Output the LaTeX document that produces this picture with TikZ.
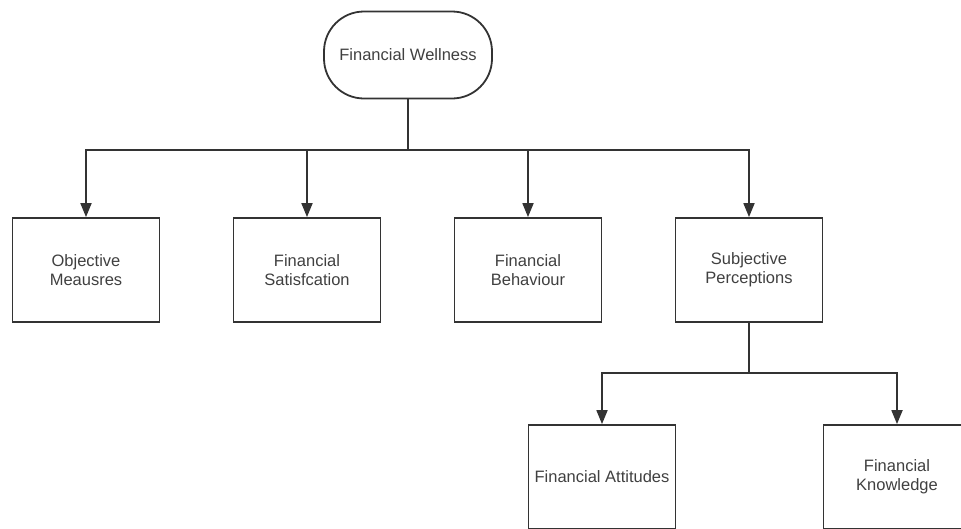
\documentclass[tikz,border=0pt]{standalone}
\usepackage{fontspec}
\setmainfont{Liberation Sans}
\usetikzlibrary{arrows.meta}

\begin{document}
\begin{tikzpicture}[x=1pt,y=-1pt,
  box/.style={draw=black!80,line width=1.8pt,minimum width=147pt,minimum height=104pt,
    align=center,text=black!75,font=\fontsize{16.5}{19}\selectfont},
  link/.style={draw=black!80,line width=1.8pt,-{Triangle[width=11pt,length=14pt]}}]

 \useasboundingbox (0,0) rectangle (961,528);
 \clip (0,0) rectangle (961,528);

 % top of the tree
 \node[box,rounded corners=40pt,minimum width=168pt,minimum height=87pt] (wellness) at (408,55) {Financial Wellness};

 % first level
 \node[box] (objective) at (86,270) {Objective\\Meausres};
 \node[box] (satisfaction) at (307,270) {Financial\\Satisfcation};
 \node[box] (behaviour) at (528,270) {Financial\\Behaviour};
 \node[box] (subjective) at (749,270) {Subjective\\Perceptions};

 \draw[link] (wellness.south) -- ++(0,50.6) -| (objective.north);
 \draw[link] (wellness.south) -- ++(0,50.6) -| (satisfaction.north);
 \draw[link] (wellness.south) -- ++(0,50.6) -| (behaviour.north);
 \draw[link] (wellness.south) -- ++(0,50.6) -| (subjective.north);

 % second level, under the subjective perceptions
 \node[box] (attitudes) at (602,477) {Financial Attitudes};
 \node[box] (knowledge) at (897,477) {Financial\\Knowledge};

 \draw[link] (subjective.south) -- ++(0,50.1) -| (attitudes.north);
 \draw[link] (subjective.south) -- ++(0,50.1) -| (knowledge.north);

\end{tikzpicture}
\end{document}
